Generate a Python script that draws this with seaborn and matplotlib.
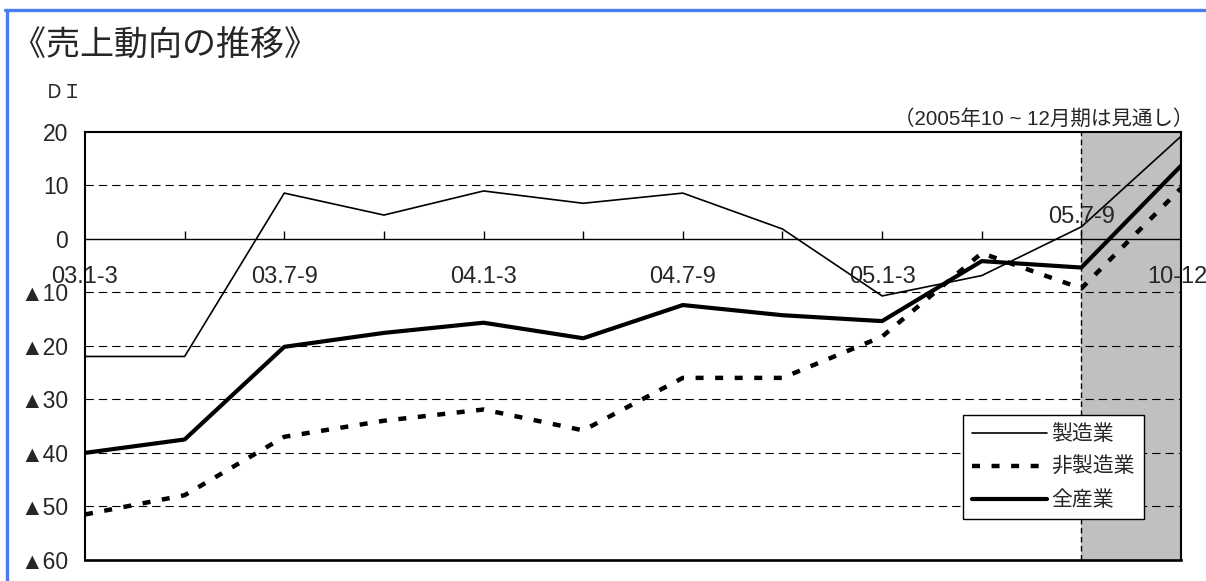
import numpy as np
import pandas as pd
import matplotlib
matplotlib.use("Agg")
import matplotlib.pyplot as plt
from matplotlib.lines import Line2D
import seaborn as sns

# Quarters from 2003 Jan-Mar to 2005 Oct-Dec
quarters = ["03.1-3", "03.4-6", "03.7-9", "03.10-12",
            "04.1-3", "04.4-6", "04.7-9", "04.10-12",
            "05.1-3", "05.4-6", "05.7-9", "05.10-12"]

# Sales DI by sector
manufacturing = [-22.0, -22.0, 8.5, 4.4, 8.9, 6.6, 8.5, 1.8, -10.7, -6.9, 2.2, 19.1]
non_manufacturing = [-51.5, -47.9, -37.0, -34.0, -31.9, -35.8, -26.0, -26.0, -18.3, -2.7, -9.3, 9.4]
all_industries = [-40.0, -37.5, -20.2, -17.6, -15.7, -18.6, -12.4, -14.3, -15.4, -4.2, -5.4, 13.6]

series_names = ["製造業", "非製造業", "全産業"]

# Labelled quarters on the category axis (index, text)
xlabel_lower = [(0, "03.1-3"), (2, "03.7-9"), (4, "04.1-3"), (6, "04.7-9"), (8, "05.1-3"), (11, "10-12")]
xlabel_upper = [(10, "05.7-9")]

yticks = [20, 10, 0, -10, -20, -30, -40, -50, -60]
ytick_labels = ["20", "10", "0", "▲10", "▲20", "▲30", "▲40", "▲50", "▲60"]

forecast_start = 10  # last quarter is a forecast

sns.set_theme(style="white")
plt.rcParams["font.family"] = ["Liberation Sans", "Noto Sans CJK JP", "DejaVu Sans"]

W, H = 1206, 581
fig = plt.figure(figsize=(W / 100, H / 100), dpi=100)
fig.patch.set_facecolor("white")

def fx(px):
    return px / W

def fy(py):
    return 1 - py / H

ax = fig.add_axes([fx(85), fy(560), fx(1181) - fx(85), fy(131.5) - fy(560)])
ax.set_facecolor("white")

idx = np.arange(len(quarters))
df = pd.DataFrame({
    "q": np.tile(idx, 3),
    "DI": manufacturing + non_manufacturing + all_industries,
    "sector": np.repeat(series_names, len(quarters)),
})

# Forecast period shading
ax.axvspan(forecast_start, len(quarters) - 1, color="#c0c0c0", zorder=0.5, lw=0)
ax.axvline(forecast_start, color="black", lw=1.0, ls=(0, (4, 2.5)), zorder=1)

# Horizontal dashed grid
for v in [10, -10, -20, -30, -40, -50]:
    ax.axhline(v, color="black", lw=0.8, ls=(0, (7.5, 4.5)), zorder=1)

# Zero line with short upward tick marks at each inner quarter
ax.axhline(0, color="black", lw=1.0, zorder=1.2)
ax.vlines(idx[1:-1], 0, 1.5, color="black", lw=1.0, zorder=1.2)

sub = df[df.sector == "製造業"]
sns.lineplot(data=sub, x="q", y="DI", ax=ax, color="black", lw=1.2,
             label="製造業", zorder=3, estimator=None)
sub = df[df.sector == "非製造業"]
sns.lineplot(data=sub, x="q", y="DI", ax=ax, color="black", lw=3.2,
             linestyle=(0, (1.8, 2.6)), dash_capstyle="butt",
             label="非製造業", zorder=3, estimator=None)
sub = df[df.sector == "全産業"]
sns.lineplot(data=sub, x="q", y="DI", ax=ax, color="black", lw=3.0,
             label="全産業", zorder=4, estimator=None)

ax.set_xlim(0, len(quarters) - 1)
ax.set_ylim(-60, 20)
ax.set_xticks([])
ax.set_yticks(yticks)
ax.set_yticklabels(ytick_labels, fontsize=16.5)
ax.tick_params(axis="y", length=0, pad=12)
ax.set_xlabel("")
ax.set_ylabel("")

for s in ["top", "left", "right"]:
    ax.spines[s].set_linewidth(1.5)
    ax.spines[s].set_color("black")
ax.spines["bottom"].set_linewidth(1.9)
ax.spines["bottom"].set_color("black")

for i, t in xlabel_lower:
    dx = -4 if i == len(quarters) - 1 else 0
    ax.annotate(t, xy=(i, 0), xytext=(dx, -38), textcoords="offset pixels",
                ha="center", va="center", fontsize=17, zorder=5)
for i, t in xlabel_upper:
    ax.annotate(t, xy=(i, 0), xytext=(0, 22), textcoords="offset pixels",
                ha="center", va="center", fontsize=17, zorder=5)

leg = ax.legend(loc="upper left", bbox_to_anchor=(fx(963), fy(415)),
                bbox_transform=fig.transFigure, fontsize=15, frameon=True,
                fancybox=False, framealpha=1, edgecolor="black",
                handlelength=3.6, handletextpad=0.2, labelspacing=0.62,
                borderpad=0.45, borderaxespad=0)
leg.get_frame().set_linewidth(1.0)
leg.set_zorder(10)

# Titles and notes
fig.text(fx(12), fy(46), "《売上動向の推移》", fontsize=24.5, ha="left", va="center",
         family=["Noto Sans CJK JP"])
fig.text(fx(45), fy(92), "ＤＩ", fontsize=13.5, ha="left", va="center",
         family=["Noto Sans CJK JP"])
fig.text(fx(1193), fy(119), "（2005年10 ~ 12月期は見通し）", fontsize=14.8,
         ha="right", va="center")

# Blue page frame
fig.add_artist(Line2D([fx(6.5), fx(6.5)], [fy(9.5), fy(H + 2)], color="#4a7cf0", lw=2.4,
                      transform=fig.transFigure))
fig.add_artist(Line2D([fx(5), fx(W + 2)], [fy(9.5), fy(9.5)], color="#4a7cf0", lw=2.4,
                      transform=fig.transFigure))

fig.savefig("out.png", dpi=100, facecolor="white")
